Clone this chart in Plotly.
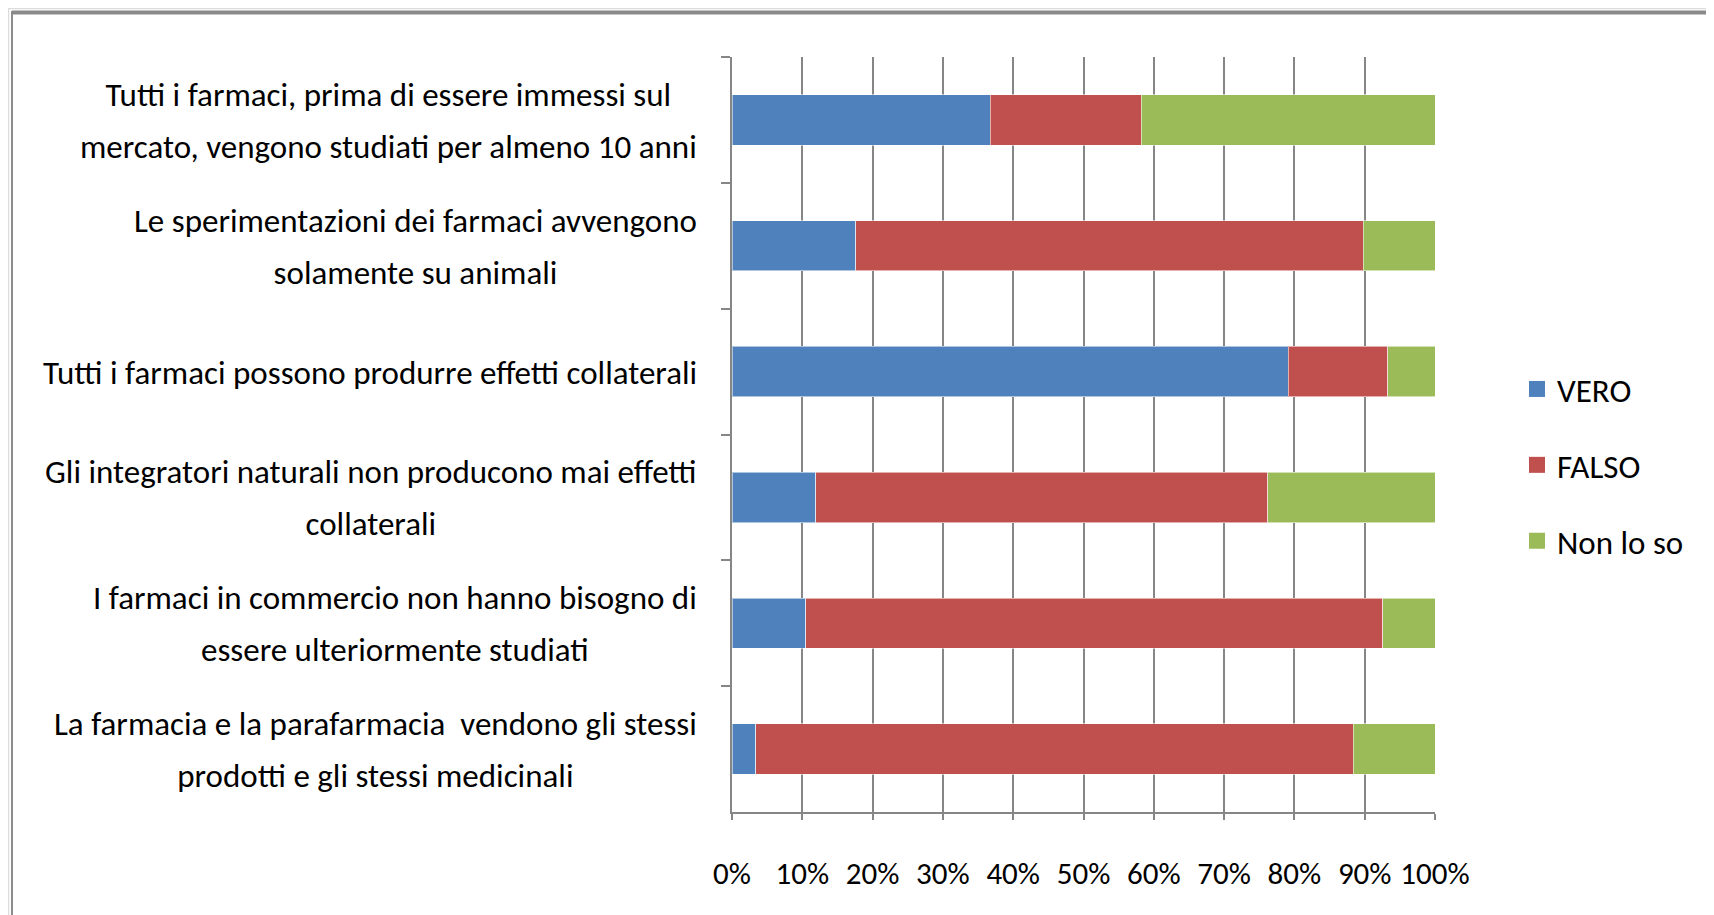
import plotly.graph_objects as go

# ---- data (percent) ----
categories = [
    "Tutti i farmaci, prima di essere immessi sul<br>mercato, vengono studiati per almeno 10 anni",
    "Le sperimentazioni dei farmaci avvengono<br>solamente su animali",
    "Tutti i farmaci possono produrre effetti collaterali",
    "Gli integratori naturali non producono mai effetti<br>collaterali",
    "I farmaci in commercio non hanno bisogno di<br>essere ulteriormente studiati",
    "La farmacia e la parafarmacia  vendono gli stessi<br>prodotti e gli stessi medicinali",
]
vero = [36.7, 17.6, 79.1, 11.9, 10.5, 3.4]
falso = [21.5, 72.2, 14.2, 64.3, 82.1, 85.0]
non_lo_so = [41.8, 10.2, 6.7, 23.8, 7.4, 11.6]
series_names = ["VERO", "FALSO", "Non lo so"]
series_colors = ["#4F81BD", "#C0504D", "#9BBB59"]
x_tickvals = [0, 10, 20, 30, 40, 50, 60, 70, 80, 90, 100]
x_ticktext = ["0%", "10%", "20%", "30%", "40%", "50%", "60%", "70%", "80%", "90%", "100%"]

# ---- layout geometry ----
W, H = 1714, 915
OFF = 8  # page body margin offset
L, R, T, B = 724, 287, 49, 111
PW, PH = W - L - R, H - T - B
FONT = "Carlito, Calibri, Lato, sans-serif"
GRID = "#868686"


def px_x(px):
    # px is a figure pixel coordinate
    return (px - L) / PW


def px_y(py):
    return (H - B - py) / PH


fig = go.Figure()
for name, vals, col in zip(series_names, [vero, falso, non_lo_so], series_colors):
    fig.add_trace(go.Bar(
        y=categories, x=vals, name=name, orientation="h",
        marker=dict(color=col, line=dict(color="rgba(255,255,255,0.55)", width=1)),
        legendgroup=name, showlegend=False,
    ))
# legend entries (larger square swatches, no data drawn)
for name, col in zip(series_names, series_colors):
    fig.add_trace(go.Scatter(
        x=[None], y=[None], mode="markers", name=name, legendgroup=name,
        marker=dict(symbol="square", size=16, color=col), showlegend=True,
        hoverinfo="skip",
    ))

# category labels (centered multi-line text, right edge near the axis)
annotations = []
for cat in categories:
    annotations.append(dict(
        x=0, xref="paper", y=cat, yref="y",
        xanchor="right", yanchor="middle", xshift=-33, yshift=-1,
        text='<span style="font-size:33px">' + cat + "</span>",
        showarrow=False, align="center",
        font=dict(family=FONT, size=40, color="#000000"),
    ))

shapes = [
    dict(type="rect", xref="paper", yref="paper",
         x0=px_x(0.5), x1=px_x(1720), y0=px_y(0.5), y1=px_y(930),
         line=dict(color="#dcdcdc", width=1.5), layer="below"),
    dict(type="rect", xref="paper", yref="paper",
         x0=px_x(4), x1=px_x(1705), y0=px_y(4), y1=px_y(930),
         line=dict(color="#8c8c8c", width=2), layer="below"),
    dict(type="line", xref="paper", yref="paper",
         x0=px_x(4), x1=px_x(1705), y0=px_y(4.5), y1=px_y(4.5),
         line=dict(color="#8a8a8a", width=4), layer="below"),
]

fig.update_layout(
    width=W, height=H,
    margin=dict(l=L, r=R, t=T, b=B, pad=0),
    barmode="stack", bargap=0.6,
    paper_bgcolor="white", plot_bgcolor="white",
    font=dict(family=FONT, size=32, color="#000000"),
    showlegend=True,
    legend=dict(
        x=px_x(1517 - OFF), xanchor="left", y=px_y(465 - OFF), yanchor="middle",
        traceorder="grouped", tracegroupgap=30,
        font=dict(family=FONT, size=33, color="#000000"),
        bgcolor="rgba(0,0,0,0)", itemwidth=30,
    ),
    annotations=annotations,
    shapes=shapes,
    xaxis=dict(
        range=[0, 100], tickmode="array", tickvals=x_tickvals, ticktext=x_ticktext,
        showgrid=True, gridcolor=GRID, gridwidth=2,
        showline=True, linecolor=GRID, linewidth=2,
        ticks="outside", ticklen=6, tickwidth=2, tickcolor=GRID,
        zeroline=False, ticklabelstandoff=27, tickangle=0, automargin=False,
        tickfont=dict(family=FONT, size=31, color="#000000"),
        fixedrange=True,
    ),
    yaxis=dict(
        type="category", autorange="reversed", automargin=False,
        showticklabels=False, showgrid=False, zeroline=False,
        showline=True, linecolor=GRID, linewidth=2,
        ticks="outside", tickson="boundaries", ticklen=9, tickwidth=2, tickcolor=GRID,
        fixedrange=True,
    ),
)

fig.write_html("out.html")
